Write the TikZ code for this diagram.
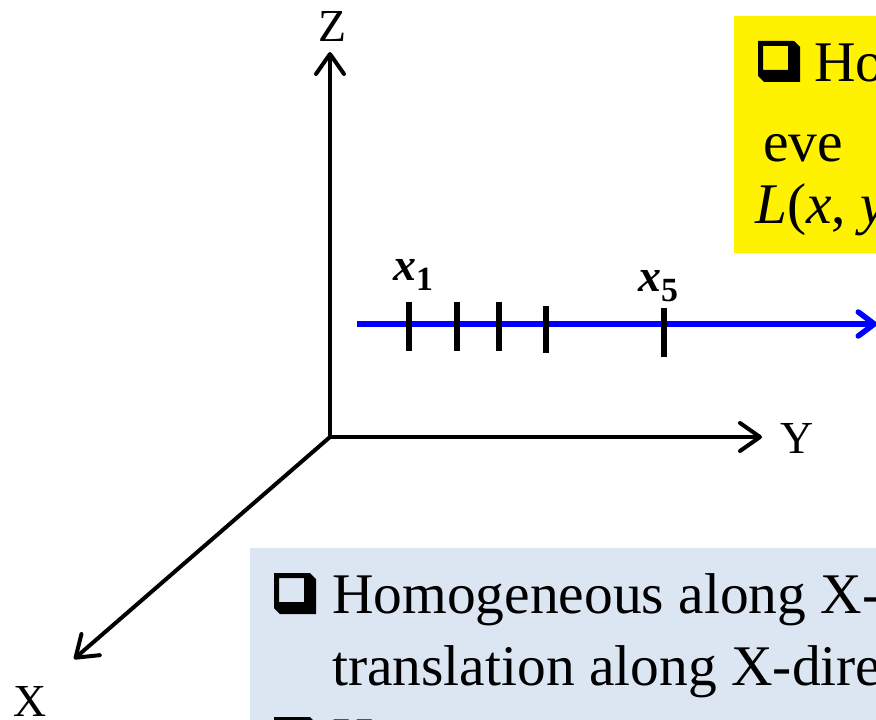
\documentclass[tikz,border=0pt]{standalone}
\usepackage{fontspec}
\setmainfont{Liberation Serif}
\usetikzlibrary{arrows.meta}
\definecolor{boxblue}{RGB}{220,230,242}
\newcommand{\ptlab}[1]{{\bfseries\itshape x}\raisebox{-10bp}{\bfseries\fontsize{34}{34}\selectfont #1}}

\begin{document}
\begin{tikzpicture}[x=1bp, y=-1bp,
    axis/.style={draw, line width=4bp, -{Straight Barb[length=20bp, width=28bp, line cap=round, line join=round]}},
    ray/.style={draw, blue, line width=5.5bp, -{Straight Barb[length=16bp, width=24bp, line cap=round, line join=round]}},
    tickmark/.style={draw, line width=5.5bp},
    lbl/.style={font=\fontsize{46}{50}\selectfont, inner sep=0pt},
    txt/.style={font=\fontsize{57.7}{70}\selectfont, inner sep=0pt, anchor=base west},
    qbox/.pic={\fill[even odd rule] (0,0) -- (36,0) -- (42,6) -- (42,41) -- (6,41) -- (0,35) -- cycle (5,5) rectangle (30,29);}]
    \useasboundingbox (0,0) rectangle (876,720);
    \clip (0,0) rectangle (876,720);
    % boxes
    \fill[yellow] (734,16) rectangle (880,253);
    \fill[boxblue] (250,548) rectangle (880,725);
    % axis
    \coordinate (O) at (330,437);
    \coordinate (z) at (330,52);
    \coordinate (y) at (762,437);
    \coordinate (x) at (74,659);
    \path[axis] (O) to (z);
    \path[axis] (O) to (y);
    \path[axis] (O) to (x);
    \node[lbl, anchor=base] (zlab) at (332,42) {Z};
    \node[lbl, anchor=base] (ylab) at (797,453) {Y};
    \node[lbl, anchor=base] (xlab) at (30,716) {X};
    % line of points
    \coordinate (s) at (357,324);
    \coordinate (e) at (877,324);
    \path[ray] (s) to (e);
    \foreach \t/\a/\b in {409/302/351, 457/302/351, 499/302/351, 546/306/353, 664/308/357}
        \path[tickmark] (\t,\a) to (\t,\b);
    \node[lbl, anchor=base west] (xone) at (393,280) {\ptlab{1}};
    \node[lbl, anchor=base west] (xfive) at (638,291) {\ptlab{5}};
    % yellow box text
    \pic at (758,41) {qbox};
    \node[txt] (ya) at (814,82) {Ho};
    \node[txt] (yb) at (763,162) {eve};
    \node[txt] (yc) at (755,223) {\textit{L}(\textit{x}, \textit{y}};
    % blue box text
    \pic at (274,573) {qbox};
    \node[txt] (ba) at (332,613) {Homogeneous along X-};
    \node[txt] (bb) at (332,685) {translation along X-dire};
    \pic at (274,717) {qbox};
    \node[txt] (bc) at (332,757) {Ho};
\end{tikzpicture}
\end{document}
